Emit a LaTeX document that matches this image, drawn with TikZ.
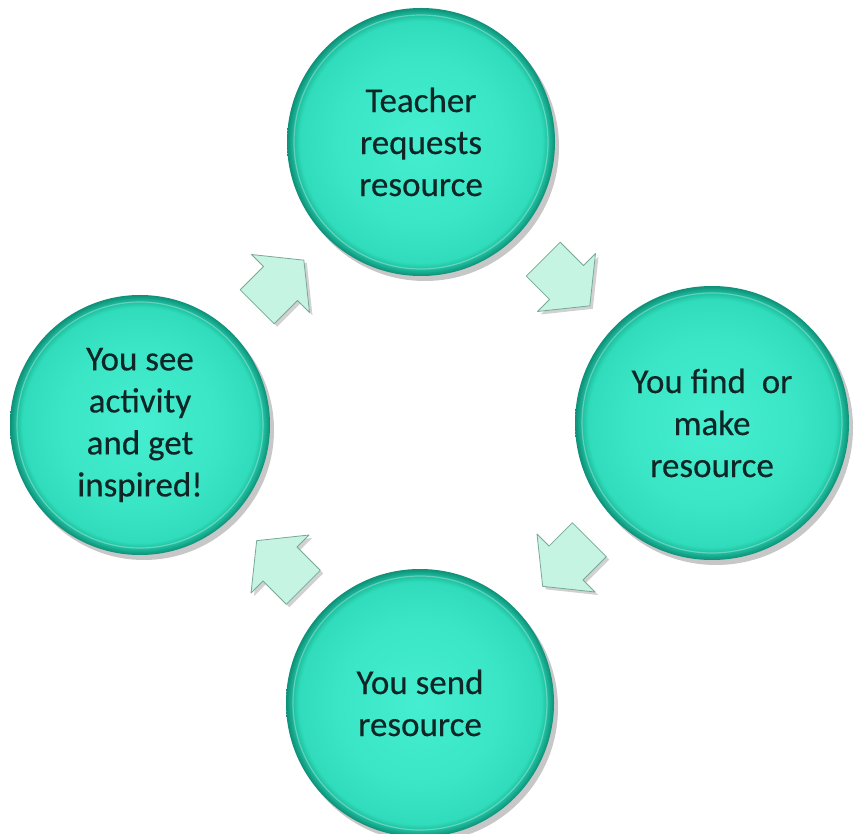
\documentclass[tikz,border=0pt]{standalone}
\usepackage{fontspec}
\setmainfont{Carlito}
\newfontfamily\lblfont{Carlito}[FakeBold=0.3]
\usetikzlibrary{calc,shadows}
\definecolor{txt}{HTML}{102626}
\definecolor{mint}{HTML}{C6F4E3}
\definecolor{mintedge}{HTML}{78A897}
\definecolor{c1}{HTML}{45EED0}
\definecolor{c2}{HTML}{3AE6C6}
\definecolor{c3}{HTML}{30DCBB}
\definecolor{c4}{HTML}{20C3A3}
\definecolor{c5}{HTML}{13A287}
\definecolor{c6}{HTML}{0F8F77}
\pgfdeclareradialshading{disc}{\pgfpoint{0bp}{0bp}}{color(0bp)=(c1); color(15bp)=(c2); color(22.6bp)=(c3); color(23.6bp)=(c4); color(24.5bp)=(c5); color(25bp)=(c6); color(50bp)=(c6)}
\tikzset{
  ball/.style={circle, inner sep=0pt, shading=disc,
    drop shadow={shadow xshift=4pt, shadow yshift=-5pt, opacity=0.22, fill=black},
    font=\lblfont\fontsize{35}{42}\selectfont, text=txt, align=center},
  hl/.style={draw=white, opacity=0.3, line width=1.2pt},
  blockarrow/.style={fill=mint, draw=mintedge, line width=0.8pt, line join=round},
  arrowshadow/.style={fill=black, opacity=0.18}
}
\newcommand{\arrowpath}{(-33,24) -- (0,24) -- (0,41) -- (33,0) -- (0,-41) -- (0,-24) -- (-33,-24) -- cycle}
\begin{document}
\begin{tikzpicture}[x=1pt,y=1pt]
\useasboundingbox[fill=white] (0,0) rectangle (856,833);
\node[ball, minimum size=268pt] (ctop) at (421,691) {Teacher\\requests\\resource};
\node[ball, minimum size=274pt] (cright) at (712,410) {You find~ or\\make\\resource};
\node[ball, minimum size=268pt] (cbottom) at (420,130) {You send\\resource};
\node[ball, minimum size=260pt] (cleft) at (140,408) {You see\\activity\\and get\\inspired!};
\draw[hl] (ctop.center) circle[radius=127];
\draw[hl] (cright.center) circle[radius=130];
\draw[hl] (cbottom.center) circle[radius=127];
\draw[hl] (cleft.center) circle[radius=123];
\coordinate (a1) at ($(cleft)!0.5!(ctop)$);
\coordinate (a2) at ($(ctop)!0.5!(cright)$);
\coordinate (a3) at ($(cright)!0.5!(cbottom)$);
\coordinate (a4) at ($(cbottom)!0.5!(cleft)$);
\foreach \c/\ang in {a1/45, a2/-45, a3/-135, a4/135}{
  \begin{scope}[shift={(\c)}, xshift=3pt, yshift=-3pt, rotate=\ang]
    \fill[arrowshadow] \arrowpath;
  \end{scope}
  \begin{scope}[shift={(\c)}, rotate=\ang]
    \draw[blockarrow] \arrowpath;
  \end{scope}
}
\end{tikzpicture}
\end{document}
